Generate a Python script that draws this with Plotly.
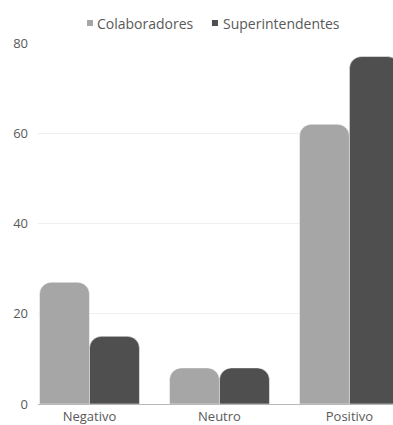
import plotly.graph_objects as go

categorias = ["Negativo", "Neutro", "Positivo"]
colaboradores = [27, 8, 62]
superintendentes = [15, 8, 77]
y_ticks = [0, 20, 40, 60, 80]

cor_colab = "#a6a6a6"
cor_super = "#4f4f4f"
cor_texto = "#595959"

fig = go.Figure()
fig.add_trace(go.Bar(
    x=categorias, y=colaboradores, name="Colaboradores",
    marker=dict(color=cor_colab, line=dict(color="#ffffff", width=0.5)),
))
fig.add_trace(go.Bar(
    x=categorias, y=superintendentes, name="Superintendentes",
    marker=dict(color=cor_super, line=dict(color="#ffffff", width=0.5)),
))

# compact legend: small square swatch followed by the series name
legenda = [
    ("Colaboradores", cor_colab, 0.138, 0.1606),
    ("Superintendentes", cor_super, 0.490, 0.5155),
]
for nome, cor, x_quad, x_txt in legenda:
    fig.add_shape(
        type="rect", xref="paper", yref="paper",
        x0=x_quad, x1=x_quad + 0.0169, y0=1.047, y1=1.0637,
        fillcolor=cor, line=dict(width=0),
    )
    fig.add_annotation(
        xref="paper", yref="paper", x=x_txt, y=1.0554,
        xanchor="left", yanchor="middle", showarrow=False,
        text=nome, font=dict(family="Open Sans", size=14, color=cor_texto),
    )

fig.update_layout(
    width=393, height=425,
    margin=dict(l=38, r=0, t=43, b=21, autoexpand=False),
    paper_bgcolor="white", plot_bgcolor="white",
    barmode="group", bargap=0.231, bargroupgap=0.0,
    barcornerradius=12,
    font=dict(family="Open Sans", size=13, color=cor_texto),
    showlegend=False,
)
fig.update_xaxes(
    type="category", range=[-0.396, 2.335], automargin=False,
    showgrid=False, showline=True, linecolor="#b4b9b9", linewidth=1,
    ticks="", ticklabelstandoff=0,
    tickfont=dict(size=13, color=cor_texto),
)
fig.update_yaxes(
    range=[0, 80], tickvals=y_ticks, showgrid=True, automargin=False,
    gridcolor="#efefef", gridwidth=1, zeroline=False, showline=False,
    ticks="", ticklabelstandoff=9,
    tickfont=dict(size=13, color=cor_texto),
)

fig.write_html("out.html")
